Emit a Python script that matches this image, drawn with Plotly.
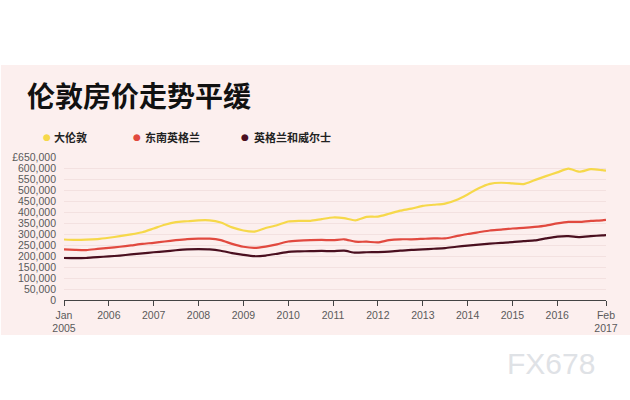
import pandas as pd
import plotly.graph_objects as go

# Quarterly readings (Jan 2005 ... Jan 2017) plus Feb 2017, in GBP thousands
dates = list(pd.date_range("2005-01-01", "2017-01-01", freq="QS")) + [pd.Timestamp("2017-02-01")]

greater_london = [275, 273, 274, 277, 283, 290, 298, 308, 325, 342, 354, 358,
                  362, 362, 352, 330, 316, 311, 327, 340, 357, 360, 360, 368,
                  375, 372, 362, 378, 379, 392, 406, 415, 428, 433, 438, 455,
                  480, 508, 528, 533, 530, 527, 545, 563, 580, 597, 583, 595,
                  590, 588]
south_east = [230, 228, 227, 232, 237, 242, 248, 255, 260, 266, 272, 277,
              279, 279, 272, 255, 242, 237, 243, 253, 266, 270, 272, 273,
              272, 276, 265, 265, 262, 272, 276, 276, 278, 280, 280, 290,
              300, 308, 316, 320, 325, 328, 332, 338, 348, 355, 355, 360,
              362, 364]
england_wales = [191, 190, 191, 195, 198, 202, 207, 212, 217, 221, 226, 230,
                 231, 230, 224, 213, 205, 199, 202, 210, 219, 221, 222, 223,
                 222, 224, 215, 217, 218, 220, 224, 228, 230, 233, 236, 242,
                 247, 252, 256, 260, 263, 268, 271, 280, 288, 290, 286, 290,
                 294, 295]

series_names = ["大伦敦", "东南英格兰", "英格兰和威尔士"]
series_values = [greater_london, south_east, england_wales]
series_colors = ["#f6d84a", "#e1493f", "#4a0f1f"]

y_tick_vals = list(range(0, 650001, 50000))
y_tick_text = [f"{v:,}" for v in y_tick_vals]
y_tick_text[-1] = "£" + y_tick_text[-1]

x_tick_vals = [pd.Timestamp(f"{y}-01-01") for y in range(2005, 2017)] + [pd.Timestamp("2017-02-01")]
x_tick_text = ["Jan<br>2005"] + [str(y) for y in range(2006, 2017)] + ["Feb<br>2017"]

title_text = "伦敦房价走势平缓"
watermark = "FX678"

BG = "#fcefee"
L, R, T, B = 59, 21, 157, 100
W, H = 630, 400
pw, ph = W - L - R, H - T - B

def px_x(x):
    return (x - L) / pw

def px_y(y):
    return (H - B - y) / ph

fig = go.Figure()
for name, vals, col in zip(series_names, series_values, series_colors):
    fig.add_trace(go.Scatter(
        x=dates, y=[v * 1000 for v in vals], mode="lines", name=name,
        line=dict(color=col, width=2.2, shape="spline", smoothing=0.6),
        showlegend=False, hoverinfo="skip"))

fig.add_shape(type="rect", xref="paper", yref="paper",
              x0=px_x(-5), x1=px_x(W + 5), y0=px_y(335), y1=px_y(65),
              fillcolor=BG, line=dict(width=0), layer="below")

tick_font = dict(family="Liberation Sans Narrow, Arial Narrow, Liberation Sans, Arial", size=10.5, color="#5a5a5a")

fig.update_layout(
    width=W, height=H,
    margin=dict(l=L, r=R, t=T, b=B),
    paper_bgcolor="white", plot_bgcolor=BG,
    xaxis=dict(range=[pd.Timestamp("2005-01-01"), pd.Timestamp("2017-02-01")],
               tickvals=x_tick_vals, ticktext=x_tick_text, tickfont=tick_font,
               showgrid=False, zeroline=False,
               showline=True, linecolor="#444444", linewidth=1,
               ticks="outside", ticklen=5, tickcolor="#444444", tickwidth=1),
    yaxis=dict(range=[0, 650000], tickvals=y_tick_vals, ticktext=y_tick_text,
               tickfont=tick_font, showgrid=True, gridcolor="#f3e1e0", gridwidth=1,
               zeroline=False, showline=False, ticks="", ticklabelstandoff=7),
)

annotations = [
    dict(text="<b>" + title_text + "</b>", x=px_x(19), y=px_y(95),
         xanchor="left", yanchor="middle",
         font=dict(family="Noto Sans CJK SC", size=28, color="#111111")),
    dict(text=watermark, x=px_x(553), y=px_y(363), xanchor="center", yanchor="middle",
         font=dict(family="Liberation Sans, Arial", size=30, color="#dfe2e6")),
]
dot_x = [42, 133, 243]
text_x = [47, 139, 250]
for name, col, dx, tx in zip(series_names, series_colors, dot_x, text_x):
    annotations.append(dict(
        text="●", x=px_x(dx), y=px_y(137), xanchor="center", yanchor="middle",
        font=dict(family="DejaVu Sans", size=9, color=col)))
    annotations.append(dict(
        text=f"<b>{name}</b>", x=px_x(tx), y=px_y(137), xanchor="left", yanchor="middle",
        font=dict(family="Noto Sans CJK SC", size=11, color="#222222")))

fig.update_layout(annotations=[dict(a, xref="paper", yref="paper", showarrow=False) for a in annotations])

fig.write_html("out.html", config={"displayModeBar": False},
               post_script="document.body.style.margin='0';document.body.style.padding='0';")
